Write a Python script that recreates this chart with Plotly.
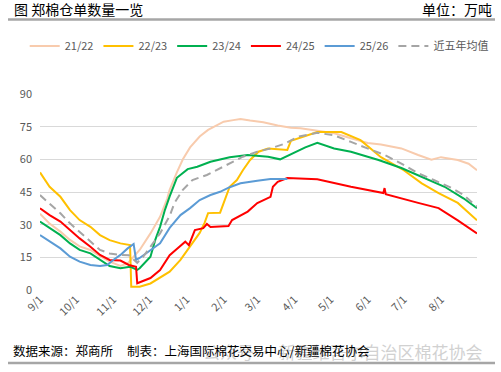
import plotly.graph_objects as go
from datetime import date

# ---- data (values in 万吨, dates as month/day of a Sep–Aug season) ----
s2122_d = ["9/1","9/9","9/18","9/26","10/4","10/13","10/21","10/29","11/7","11/13","11/18","11/23","12/2","12/10","12/16","12/18","12/24","12/29","1/4","1/12","1/19","1/27","2/1","2/9","2/15","2/23","3/6","3/18","3/29","4/6","4/20","5/4","5/18","6/1","6/12","6/29","7/13","7/24","8/1","8/15","8/24","8/31"]
s2122_v = [35,30.5,26.8,23,20,18.4,15.5,13,11,12.2,15.3,18.4,26,33.6,42,46,54,60,65.5,70.5,73.5,76,77.3,78,78.5,77.8,77,75.5,74.5,74.3,73,72,69.7,67.5,66.8,65,62,59.8,61,59.7,58,55]

s2223_d = ["9/1","9/9","9/18","9/26","10/4","10/13","10/21","10/29","11/7","11/15","11/16","11/23","12/2","12/10","12/18","12/27","1/4","1/12","1/16","1/19","1/29","2/2","2/6","2/12","2/17","2/23","3/2","3/10","3/26","3/29","4/20","5/10","5/26","6/12","7/1","7/16","7/30","8/15","8/31"]
s2223_v = [54,47.4,42.8,36.7,32.1,29,25.2,22.9,21.4,20.6,1.5,1.5,3,5.5,8.4,13.8,19.9,26.2,30.7,35.3,35.5,41.3,47.4,50.5,55,59.7,63.5,65,64.3,68.5,72.5,72.5,68.8,61,55,49,44.5,40,32]

s2324_d = ["9/1","9/9","9/18","9/26","10/4","10/13","10/21","10/29","11/7","11/15","11/21","11/23","12/2","12/6","12/10","12/14","12/18","12/24","1/2","1/10","1/21","2/6","2/21","3/10","3/20","3/31","4/10","4/20","5/4","5/18","6/10","6/29","7/18","8/4","8/20","8/31"]
s2324_v = [31.4,28.3,25.2,21.4,18.4,16.8,13.8,11,10,10.7,9.2,10,15.3,23,29,36.7,43,51.5,55.5,56.6,58.9,61,62,61.2,60,62.8,65.5,67.6,65,63.5,59.7,56,51.4,47.4,42,37.6]

s2425_d = ["9/1","9/9","9/18","9/26","10/4","10/13","10/21","10/29","11/7","11/14","11/20","11/21","12/2","12/10","12/18","12/23","12/31","1/3","1/6","1/8","1/15","1/18","1/21","2/5","2/8","2/21","3/1","3/12","3/14","3/18","3/26","4/20","5/18","6/14","6/15","6/16","7/13","7/30","8/15","8/24","8/31"]
s2425_v = [37.5,34.4,31.4,27.5,23.7,19.9,16.1,13.8,13.5,11.5,10.7,3.1,5.5,9.2,16,18.4,22.2,20.6,25.2,27.5,28.4,30.3,28.9,29.4,32.1,36,39.9,42.8,47.4,49.7,51.4,50.9,47.4,44.5,46.8,44,40,37.6,32,28.4,26]

s2526_d = ["9/1","9/9","9/18","9/26","10/4","10/13","10/21","10/27","11/1","11/7","11/13","11/18","11/20","11/23","12/2","12/10","12/18","12/27","1/4","1/12","1/21","1/29","2/6","2/15","3/1","3/12","3/26"]
s2526_v = [25.2,22.2,19.1,15.3,13,11.5,11,11.5,13.8,16.1,19.1,21.1,13.8,14.7,18.4,21.4,28.5,34.4,37.6,41.3,43.6,45.1,47.2,49,50.2,51,51]

avg5_d = ["9/1","9/9","9/18","9/26","10/4","10/13","10/21","10/29","11/7","11/14","11/21","11/26","12/2","12/10","12/18","12/22","12/29","1/6","1/18","1/29","2/8","2/17","3/1","3/12","3/23","4/4","4/20","5/4","5/18","6/1","6/15","6/29","7/13","7/26","8/10","8/20","8/31"]
avg5_v = [43.6,39.8,35.2,30.6,26.8,22.2,18.4,16.8,16.1,16,12.5,15.3,19.9,26,34,40,46,50.5,52.8,56,58.9,61.2,63.5,65,67,70.4,72.2,71,68,65,62,58,53.6,50.5,46.8,43.6,38.2]

month_ticks = ["9/1","10/1","11/1","12/1","1/1","2/1","3/1","4/1","5/1","6/1","7/1","8/1"]

series = [
    ("21/22", s2122_d, s2122_v, "#F8CBAD", None),
    ("22/23", s2223_d, s2223_v, "#FFC000", None),
    ("23/24", s2324_d, s2324_v, "#00B050", None),
    ("24/25", s2425_d, s2425_v, "#FF0000", None),
    ("25/26", s2526_d, s2526_v, "#5B9BD5", None),
    ("近五年均值", avg5_d, avg5_v, "#A5A5A5", "8px,5px"),
]

def to_date(md):
    m, d = (int(t) for t in md.split("/"))
    return date(2024 if m >= 9 else 2025, m, d)

FONT = "Noto Sans CJK SC, Microsoft YaHei, sans-serif"

fig = go.Figure()
for name, ds, vs, color, dash in series:
    fig.add_trace(go.Scatter(
        x=[to_date(d) for d in ds], y=vs, name=name, mode="lines",
        line=dict(color=color, width=2, dash=dash),
    ))

fig.update_layout(
    template="none",
    width=501, height=372,
    margin=dict(l=40, r=24, t=94, b=82, autoexpand=False),
    paper_bgcolor="white", plot_bgcolor="white",
    font=dict(family=FONT, size=11, color="#595959"),
    showlegend=True,
    legend=dict(orientation="h", x=-0.035, xanchor="left", y=1.245, yanchor="middle",
                font=dict(size=11, color="#595959"), bgcolor="rgba(0,0,0,0)",
                itemwidth=30, tracegroupgap=0),
    xaxis=dict(
        type="date", automargin=False,
        range=[date(2024, 9, 1), date(2025, 8, 31)],
        tickvals=[to_date(t) for t in month_ticks],
        ticktext=month_ticks,
        tickangle=-45, showgrid=False, zeroline=False, showline=False,
        ticks="", tickfont=dict(size=11, color="#595959"),
    ),
    yaxis=dict(
        automargin=False, ticklabelstandoff=7,
        range=[0, 90], tickvals=[0, 15, 30, 45, 60, 75, 90],
        showgrid=True, gridcolor="#D9D9D9", gridwidth=1, zeroline=False,
        showline=False, ticks="", tickfont=dict(size=11, color="#595959"),
    ),
)

# header / footer decorations
fig.add_annotation(text="图 郑棉仓单数量一览", xref="paper", yref="paper",
                   x=(12 - 40) / 437, y=(290 - 9) / 196, xanchor="left", yanchor="middle",
                   showarrow=False, font=dict(family=FONT, size=14, color="#000000"))
fig.add_annotation(text="单位：万吨", xref="paper", yref="paper",
                   x=(494 - 40) / 437, y=(290 - 9) / 196, xanchor="right", yanchor="middle",
                   showarrow=False, font=dict(family=FONT, size=14, color="#000000"))
fig.add_annotation(text="公众号 · 新疆维吾尔自治区棉花协会", xref="paper", yref="paper",
                   x=(485 - 40) / 437, y=(290 - 351) / 196, xanchor="right", yanchor="middle",
                   showarrow=False, opacity=0.45, font=dict(family=FONT, size=17, color="#9A9A9A"))
fig.add_annotation(text="数据来源：郑商所&nbsp;&nbsp;&nbsp;&nbsp;&nbsp;制表：上海国际棉花交易中心/新疆棉花协会",
                   xref="paper", yref="paper",
                   x=(11 - 40) / 437, y=(290 - 350) / 196, xanchor="left", yanchor="middle",
                   showarrow=False, font=dict(family=FONT, size=12.5, color="#000000"))
fig.add_shape(type="line", xref="paper", yref="paper",
              x0=(8 - 40) / 437, x1=(495 - 40) / 437, y0=(290 - 19.5) / 196, y1=(290 - 19.5) / 196,
              line=dict(color="#A6A6A6", width=2.5))
fig.add_shape(type="line", xref="paper", yref="paper",
              x0=(8 - 40) / 437, x1=(495 - 40) / 437, y0=(290 - 363) / 196, y1=(290 - 363) / 196,
              line=dict(color="#A6A6A6", width=2.5))

fig.write_html("out.html", config={"displayModeBar": False},
               post_script="document.body.style.margin='0';document.body.style.padding='0';")
